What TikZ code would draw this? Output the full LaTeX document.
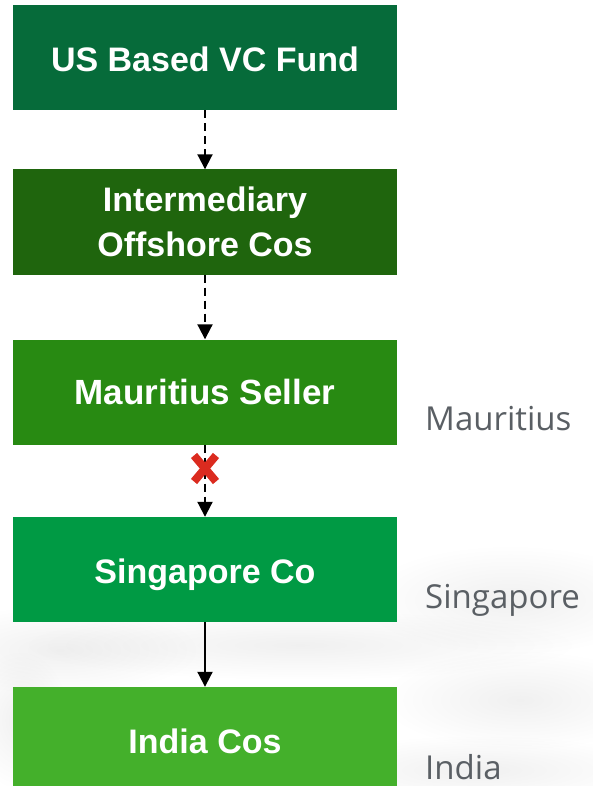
\documentclass[tikz,border=0pt]{standalone}
\usepackage{fontspec}
\setmainfont{Liberation Sans}
\newfontfamily\labelfont{Open Sans}
\usetikzlibrary{arrows.meta,fadings}

\definecolor{gA}{HTML}{066B3A}
\definecolor{gB}{HTML}{1F650D}
\definecolor{gC}{HTML}{288A12}
\definecolor{gD}{HTML}{009A44}
\definecolor{gE}{HTML}{44B02B}
\definecolor{labelgrey}{HTML}{5A5F64}
\definecolor{crossred}{HTML}{DB2B1F}

\tikzfading[name=softspot, inner color=transparent!0, outer color=transparent!100]

\tikzset{
  entity/.style={rectangle, minimum width=384pt, minimum height=105pt,
    inner sep=0pt, text=white, align=center,
    font=\bfseries\fontsize{34}{45}\selectfont},
  country/.style={anchor=base west, inner sep=0pt, text=labelgrey,
    font=\labelfont\fontsize{33}{40}\selectfont},
  link/.style={line width=2pt, -{Triangle[length=15pt,width=15pt]}},
  dashlink/.style={link, dash pattern=on 8pt off 5pt},
  haze/.style={black, opacity=0.06, path fading=softspot}
}

\begin{document}
\begin{tikzpicture}[x=1pt,y=-1pt]
\useasboundingbox (0,0) rectangle (592,786);

% faint cloudy backdrop in the lower part
\fill[haze] (60,650) ellipse (140 and 45);
\fill[haze] (300,645) ellipse (280 and 35);
\fill[haze] (510,600) ellipse (150 and 55);
\fill[haze] (520,700) ellipse (140 and 50);
\fill[haze] (480,770) ellipse (180 and 35);
\fill[haze] (20,720) ellipse (50 and 70);

% ownership chain
\node[entity, fill=gA, text height=29pt, text depth=0pt] (fund) at (205,57.5) {US Based VC Fund};
\node[entity, fill=gB] (inter) at (205,222) {Intermediary\\Offshore Cos};
\node[entity, fill=gC, font=\bfseries\fontsize{35}{45}\selectfont] (maur) at (205,392) {Mauritius Seller};
\node[entity, fill=gD, text height=34pt, text depth=7pt] (sing) at (205,569.5) {Singapore Co};
\node[entity, fill=gE, minimum height=108pt] (india) at (205,741) {India Cos};

% jurisdiction labels
\node[country] (lm) at (425,430) {Mauritius};
\node[country] (ls) at (425,608) {Singapore};
\node[country] (li) at (425,779) {India};

% connectors
\draw[dashlink] (fund.south) -- (inter.north);
\draw[dashlink] (inter.south) -- (maur.north);
\draw[dashlink] (maur.south) -- (sing.north);
\draw[link] (sing.south) -- (india.north);

% blocked-link cross
\path (maur.south) -- (sing.north) coordinate[pos=0.33] (blk);
\draw[crossred, line width=8pt] ([shift={(-11,-13)}]blk) -- ([shift={(11,13)}]blk);
\draw[crossred, line width=8pt] ([shift={(11,-13)}]blk) -- ([shift={(-11,13)}]blk);
\end{tikzpicture}
\end{document}
